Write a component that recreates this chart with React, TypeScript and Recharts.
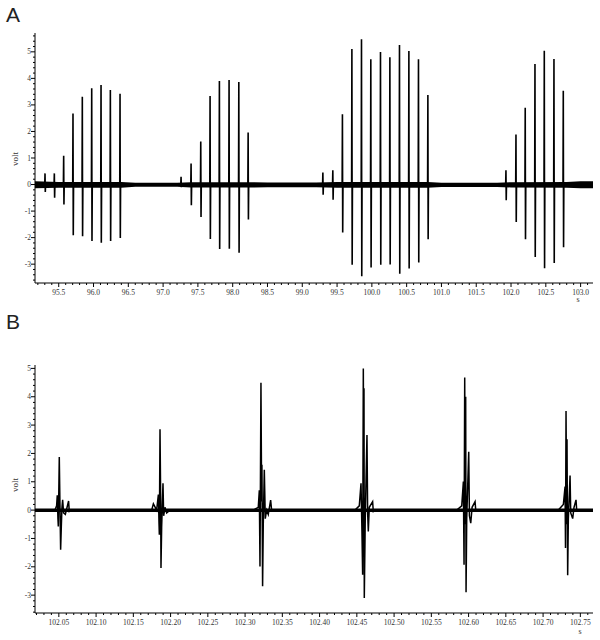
import { ComposedChart, Line, Area, XAxis, YAxis } from "recharts";

// Panel A: four bursts, 95.2 to 103.2 s
const spikeTimesA = [
  95.303, 95.437, 95.571, 95.705, 95.839, 95.974, 96.108, 96.242, 96.381,
  97.258, 97.402, 97.541, 97.675, 97.809, 97.948, 98.088, 98.222,
  99.296, 99.439, 99.577, 99.713, 99.851, 99.985, 100.124, 100.259, 100.397, 100.532, 100.67, 100.805,
  101.927, 102.071, 102.204, 102.344, 102.478, 102.617, 102.751,
];
const spikePeaksA = [
  0.42, 0.42, 1.08, 2.68, 3.31, 3.63, 3.75, 3.56, 3.42,
  0.29, 0.79, 1.62, 3.34, 3.9, 3.94, 3.86, 1.96,
  0.45, 0.54, 2.65, 5.11, 5.47, 4.72, 4.99, 4.8, 5.26, 5.03, 4.72, 3.37,
  0.54, 1.89, 2.89, 4.54, 5.04, 4.73, 3.53,
];
const spikeTroughsA = [
  -0.28, -0.5, -0.75, -1.91, -1.95, -2.13, -2.19, -2.13, -2.01,
  -0.1, -0.78, -1.22, -2.05, -2.43, -2.42, -2.57, -1.32,
  -0.38, -0.57, -1.81, -3.02, -3.46, -3.13, -3.02, -3.01, -3.36, -3.16, -2.94, -2.06,
  -0.59, -1.41, -2.06, -2.73, -3.15, -2.96, -2.36,
];

// envelope of the baseline noise in A
const noiseTimesA = [95.159, 95.5, 96.4, 96.6, 97.2, 97.4, 98.3, 98.5, 99.2, 99.5, 100.8, 101.0, 101.8, 102.0, 102.8, 103.0, 103.178];
const noiseHiA = [0.12, 0.1, 0.1, 0.07, 0.07, 0.09, 0.09, 0.08, 0.08, 0.1, 0.1, 0.07, 0.07, 0.09, 0.1, 0.12, 0.12];
const noiseLoA = [-0.14, -0.12, -0.12, -0.08, -0.08, -0.11, -0.11, -0.1, -0.1, -0.12, -0.12, -0.09, -0.09, -0.11, -0.12, -0.14, -0.14];

// Panel B: the last burst, [time, volt]
const spikeB1 = [
  [102.0448, 0], [102.047, 0.15], [102.0479, 0.52], [102.0488, -0.3], [102.0493, -0.58],
  [102.0506, 1.87], [102.0515, 0.2], [102.0524, -1.4], [102.0533, -0.6], [102.0542, 0.1],
  [102.0551, 0.36], [102.0564, -0.1], [102.0587, -0.15], [102.0631, 0.32], [102.064, -0.05], [102.0671, 0],
];
const spikeB2 = [
  [102.1746, 0], [102.1769, 0.22], [102.1813, 0], [102.1836, 0.55], [102.1845, -0.5], [102.1849, -0.87],
  [102.1858, 2.85], [102.1867, 0.3], [102.1871, -2.04], [102.188, -0.6], [102.1898, 0.95],
  [102.1907, -0.2], [102.1925, 0.1], [102.1947, -0.1], [102.1992, 0],
];
const spikeB3 = [
  [102.311, 0], [102.3177, 0.1], [102.3191, 0.7], [102.32, -1.99], [102.3213, 4.49],
  [102.3222, 0.3], [102.3226, 1.6], [102.3235, -2.69], [102.3244, -0.5], [102.3258, 1.42],
  [102.3271, -0.3], [102.3289, 0], [102.3311, -0.15], [102.3343, 0.35], [102.3356, 0],
];
const spikeB4 = [
  [102.4475, 0], [102.4533, 0.15], [102.4556, 0.95], [102.4569, -0.8], [102.4578, -2.28],
  [102.4587, 5.0], [102.4593, 0.5], [102.4596, 4.3], [102.46, -3.1], [102.4613, -0.3],
  [102.4636, 2.65], [102.4645, -0.1], [102.4654, -0.75], [102.4667, 0.1], [102.4712, 0.3],
  [102.4721, -0.05], [102.4765, 0],
];
const spikeB5 = [
  [102.5841, 0], [102.5908, 0.15], [102.593, 1.01], [102.5939, -1.93], [102.5948, 4.68],
  [102.5955, -0.5], [102.5961, 4.0], [102.5966, -2.9], [102.5975, -0.3], [102.6002, 2.06],
  [102.6011, -0.2], [102.6029, -0.46], [102.6047, 0.1], [102.6087, 0.3], [102.6096, 0],
];
const spikeB6 = [
  [102.7205, 0], [102.7272, 0.2], [102.7295, 0.83], [102.7301, -1.34], [102.7308, 3.5],
  [102.7317, -0.5], [102.7321, 2.5], [102.733, -2.3], [102.7339, -0.3], [102.7362, 1.22],
  [102.7371, -0.1], [102.7397, -0.3], [102.7415, 0.1], [102.7442, 0.36], [102.7451, 0],
];

const noiseTimesB = [102.018, 102.767];
const noiseHiB = [0.06, 0.06];
const noiseLoB = [-0.07, -0.07];

const xLabelsA = ["95.5", "96.0", "96.5", "97.0", "97.5", "98.0", "98.5", "99.0", "99.5", "100.0", "100.5", "101.0", "101.5", "102.0", "102.5", "103.0"];
const xLabelsB = ["102.05", "102.10", "102.15", "102.20", "102.25", "102.30", "102.35", "102.40", "102.45", "102.50", "102.55", "102.60", "102.65", "102.70", "102.75"];
const yLabels = ["-3", "-2", "-1", "0", "1", "2", "3", "4", "5"];

const domainXA = [95.159, 103.178];
const domainXB = [102.018, 102.767];
const domainYA = [-3.71, 5.71];
const domainYB = [-3.63, 5.12];

const FONT = "'Liberation Serif', 'Times New Roman', serif";

const traceA = [{ t: domainXA[0], v: 0 }];
spikeTimesA.forEach((t, i) => {
  traceA.push({ t: t - 0.004, v: 0 }, { t, v: spikePeaksA[i] }, { t: t + 0.004, v: spikeTroughsA[i] }, { t: t + 0.008, v: 0 });
});
traceA.push({ t: domainXA[1], v: 0 });

const bandA = noiseTimesA.map((t, i) => ({ t, band: [noiseLoA[i], noiseHiA[i]] }));
const bandB = noiseTimesB.map((t, i) => ({ t, band: [noiseLoB[i], noiseHiB[i]] }));

const traceB = [{ t: domainXB[0], v: 0 }];
[spikeB1, spikeB2, spikeB3, spikeB4, spikeB5, spikeB6].forEach((s) =>
  s.forEach(([t, v]) => traceB.push({ t, v }))
);
traceB.push({ t: domainXB[1], v: 0 });

const ticksA: number[] = [];
for (let i = 952; i <= 1031; i++) ticksA.push(i / 10);
const ticksB: number[] = [];
for (let i = 10202; i <= 10276; i++) ticksB.push(i / 100);
const yTicks = (d: number[]) => {
  const out: number[] = [];
  for (let i = -20; i <= 30; i++) {
    const v = i / 5;
    if (v >= d[0] && v <= d[1]) out.push(v);
  }
  return out;
};

function XTick(props: any) {
  const { x, y, payload, labels, digits } = props;
  const label = Number(payload.value).toFixed(digits);
  const major = labels.includes(label);
  return (
    <g>
      <line x1={x} x2={x} y1={y} y2={y + (major ? 4 : 2)} stroke="#000" />
      {major && (
        <text x={x} y={y + 11.5} textAnchor="middle" fontSize={7.5} fontFamily={FONT} fill="#333">
          {label}
        </text>
      )}
    </g>
  );
}

function YTick(props: any) {
  const { x, y, payload } = props;
  const v = Number(payload.value);
  const label = String(Math.round(v));
  const major = Math.abs(v - Math.round(v)) < 1e-6 && yLabels.includes(label);
  return (
    <g>
      <line x1={x} x2={x - (major ? 4 : 2)} y1={y} y2={y} stroke="#000" />
      {major && (
        <text x={x - 4} y={y + 2.5} textAnchor="end" fontSize={7.5} fontFamily={FONT} fill="#333">
          {label}
        </text>
      )}
    </g>
  );
}

function Trace({
  trace,
  band,
  xDomain,
  yDomain,
  xTicks,
  labels,
  digits,
  margin,
  strokeWidth,
}: any) {
  return (
    <ComposedChart width={600} height={320} margin={margin}>
      <XAxis
        type="number"
        dataKey="t"
        domain={xDomain}
        allowDataOverflow
        ticks={xTicks}
        interval={0}
        height={20}
        tickSize={0}
        tickMargin={0}
        tickLine={false}
        axisLine={{ stroke: "#000" }}
        tick={(p: any) => <XTick {...p} labels={labels} digits={digits} />}
      />
      <YAxis
        type="number"
        domain={yDomain}
        allowDataOverflow
        ticks={yTicks(yDomain)}
        interval={0}
        width={20}
        tickSize={0}
        tickMargin={0}
        tickLine={false}
        axisLine={{ stroke: "#000" }}
        tick={(p: any) => <YTick {...p} />}
      />
      <Area data={band} dataKey="band" type="linear" fill="#000" fillOpacity={1} stroke="none" isAnimationActive={false} />
      <Line data={trace} dataKey="v" type="linear" stroke="#000" strokeWidth={strokeWidth} dot={false} isAnimationActive={false} />
    </ComposedChart>
  );
}

const abs = (extra: any) => ({ position: "absolute" as const, ...extra });

export default function App() {
  return (
    <div style={abs({ left: 0, top: 0, width: 600, height: 640, background: "#fff" })}>
      <div style={abs({ left: 0, top: 0 })}>
        <Trace
          trace={traceA}
          band={bandA}
          xDomain={domainXA}
          yDomain={domainYA}
          xTicks={ticksA}
          labels={xLabelsA}
          digits={1}
          margin={{ top: 33, right: 7, bottom: 17, left: 15 }}
          strokeWidth={1.6}
        />
      </div>
      <div style={abs({ left: 0, top: 320 })}>
        <Trace
          trace={traceB}
          band={bandB}
          xDomain={domainXB}
          yDomain={domainYB}
          xTicks={ticksB}
          labels={xLabelsB}
          digits={2}
          margin={{ top: 45, right: 7, bottom: 7, left: 15 }}
          strokeWidth={1.5}
        />
      </div>
      <div style={abs({ left: 6, top: 4, fontFamily: "'Liberation Sans', Arial, sans-serif", fontSize: 21, lineHeight: 1, color: "#222" })}>A</div>
      <div style={abs({ left: 6, top: 311, fontFamily: "'Liberation Sans', Arial, sans-serif", fontSize: 21, lineHeight: 1, color: "#222" })}>B</div>
      {[159, 485].map((y) => (
        <div
          key={y}
          style={abs({ left: 15, top: y, transform: "translate(-50%, -50%) rotate(-90deg)", fontFamily: FONT, fontSize: 9, lineHeight: 1, color: "#333" })}
        >
          volt
        </div>
      ))}
      <div style={abs({ left: 578, top: 296, transform: "translateX(-50%)", fontFamily: FONT, fontSize: 8, lineHeight: 1, color: "#333" })}>s</div>
      <div style={abs({ left: 580, top: 628, transform: "translateX(-50%)", fontFamily: FONT, fontSize: 8, lineHeight: 1, color: "#333" })}>s</div>
    </div>
  );
}
